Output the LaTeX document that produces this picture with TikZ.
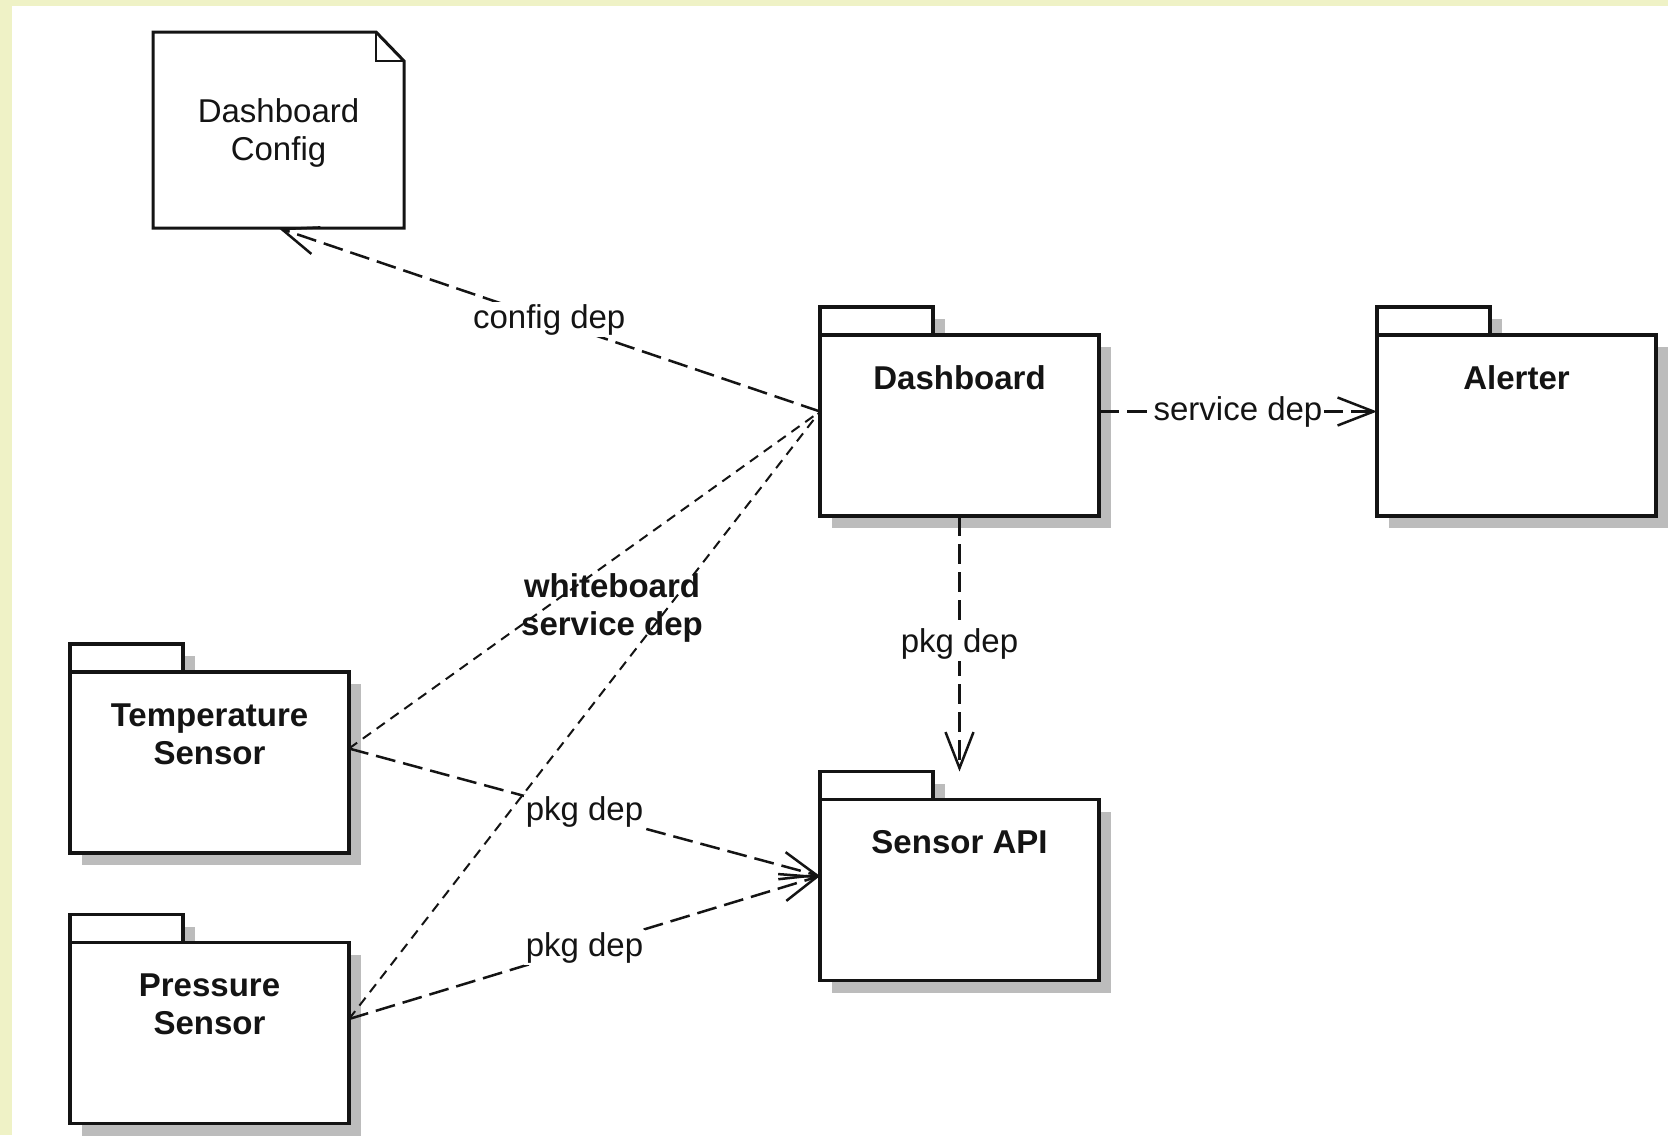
\documentclass[tikz,border=0pt]{standalone}
\usepackage{fontspec}
\setmainfont{Liberation Sans}
\usetikzlibrary{arrows.meta,calc}

\definecolor{pagebg}{RGB}{239,242,198}
\definecolor{dropgray}{RGB}{188,188,188}
\definecolor{ink}{RGB}{20,20,20}

\newcommand{\pkgfont}{\fontsize{16.5}{19}\selectfont\bfseries}
\newcommand{\plainfont}{\fontsize{16.5}{19}\selectfont}

\tikzset{
  pkg/.style={minimum width=139.5pt, minimum height=104.5pt, inner sep=0pt, outer sep=0pt},
  notebox/.style={minimum width=125.5pt, minimum height=98pt, inner sep=0pt, outer sep=0pt},
  frameline/.style={draw=ink, line width=1.8pt, line join=miter, fill=white},
  pkgname/.style={font=\pkgfont, text=ink, align=center, inner sep=0pt, anchor=base},
  notename/.style={font=\plainfont, text=ink, align=center, inner sep=0pt, anchor=base},
  dep/.style={draw=ink, line width=1.25pt, dash pattern=on 10pt off 4pt,
    -{Straight Barb[length=18pt,width=14pt]}},
  wbline/.style={draw=ink, line width=1pt, dash pattern=on 5pt off 3.5pt},
  deplabel/.style={font=\plainfont, text=ink, fill=white, inner sep=1pt, pos=0.5},
}

% package symbol: tab + body with a drop shadow, drawn inside node #1
\newcommand{\drawpkg}[1]{%
  \fill[dropgray] ($(#1.north west)+(12,12)$) rectangle ++(113,28);
  \fill[dropgray] ($(#1.north west)+(12,40)$) rectangle ($(#1.south east)+(12,12)$);
  \draw[frameline] (#1.north west) rectangle ++(113,28);
  \draw[frameline] ($(#1.north west)+(0,28)$) rectangle (#1.south east);
}

\begin{document}
\begin{tikzpicture}[x=0.5pt, y=-0.5pt]
\useasboundingbox (0,0) rectangle (1668,1135);
\fill[pagebg] (0,0) rectangle (1668,1135);
\fill[white] (12,6) rectangle (1668,1135);

% package frames
\node[pkg] (dash) at (959.5,411.5) {};
\node[pkg] (alert) at (1516.5,411.5) {};
\node[pkg] (api) at (959.5,876) {};
\node[pkg] (temp) at (209.5,748.5) {};
\node[pkg] (press) at (209.5,1019) {};
\node[notebox] (config) at (278.5,130) {};

\drawpkg{dash}
\drawpkg{alert}
\drawpkg{api}
\drawpkg{temp}
\drawpkg{press}

% note with folded corner
\draw[line width=1.5pt, draw=ink, fill=white, line join=miter]
  (config.north west) -- ($(config.north east)+(-28,0)$) -- ($(config.north east)+(0,29)$)
  -- (config.south east) -- (config.south west) -- cycle;
\draw[line width=1.1pt, draw=ink]
  ($(config.north east)+(-28,0)$) -- ++(0,29) -- ($(config.north east)+(0,29)$);

% names (a two-line node sits on the baseline of its last line)
\node[pkgname] (dashName) at ($(dash.north)+(0,82)$) {Dashboard};
\node[pkgname] (alertName) at ($(alert.north)+(0,82)$) {Alerter};
\node[pkgname] (apiName) at ($(api.north)+(0,82)$) {Sensor API};
\node[pkgname] (tempName) at ($(temp.north)+(0,120)$) {Temperature\\Sensor};
\node[pkgname] (pressName) at ($(press.north)+(0,120)$) {Pressure\\Sensor};
\node[notename] (configName) at ($(config.north)+(0,128.5)$) {Dashboard\\Config};

% whiteboard service dependencies
\draw[wbline] (temp.east) -- (dash.west);
\draw[wbline] (press.east) -- (dash.west);
\node[pkgname] (wbLabel) at (612,635) {whiteboard\\service dep};

% dependencies
\draw[dep] (dash.west) -- node[deplabel] (cfgLbl) {config dep} (config.south);
\draw[dep] (dash.east) -- node[deplabel] (svcLbl) {service dep} (alert.west);
\draw[dep] (dash.south) -- node[deplabel] (pkgLbl1) {pkg dep} (api.north);
\draw[dep] (temp.east) -- node[deplabel] (pkgLbl2) {pkg dep} (api.west);
\draw[dep] (press.east) -- node[deplabel] (pkgLbl3) {pkg dep} (api.west);
\end{tikzpicture}
\end{document}
